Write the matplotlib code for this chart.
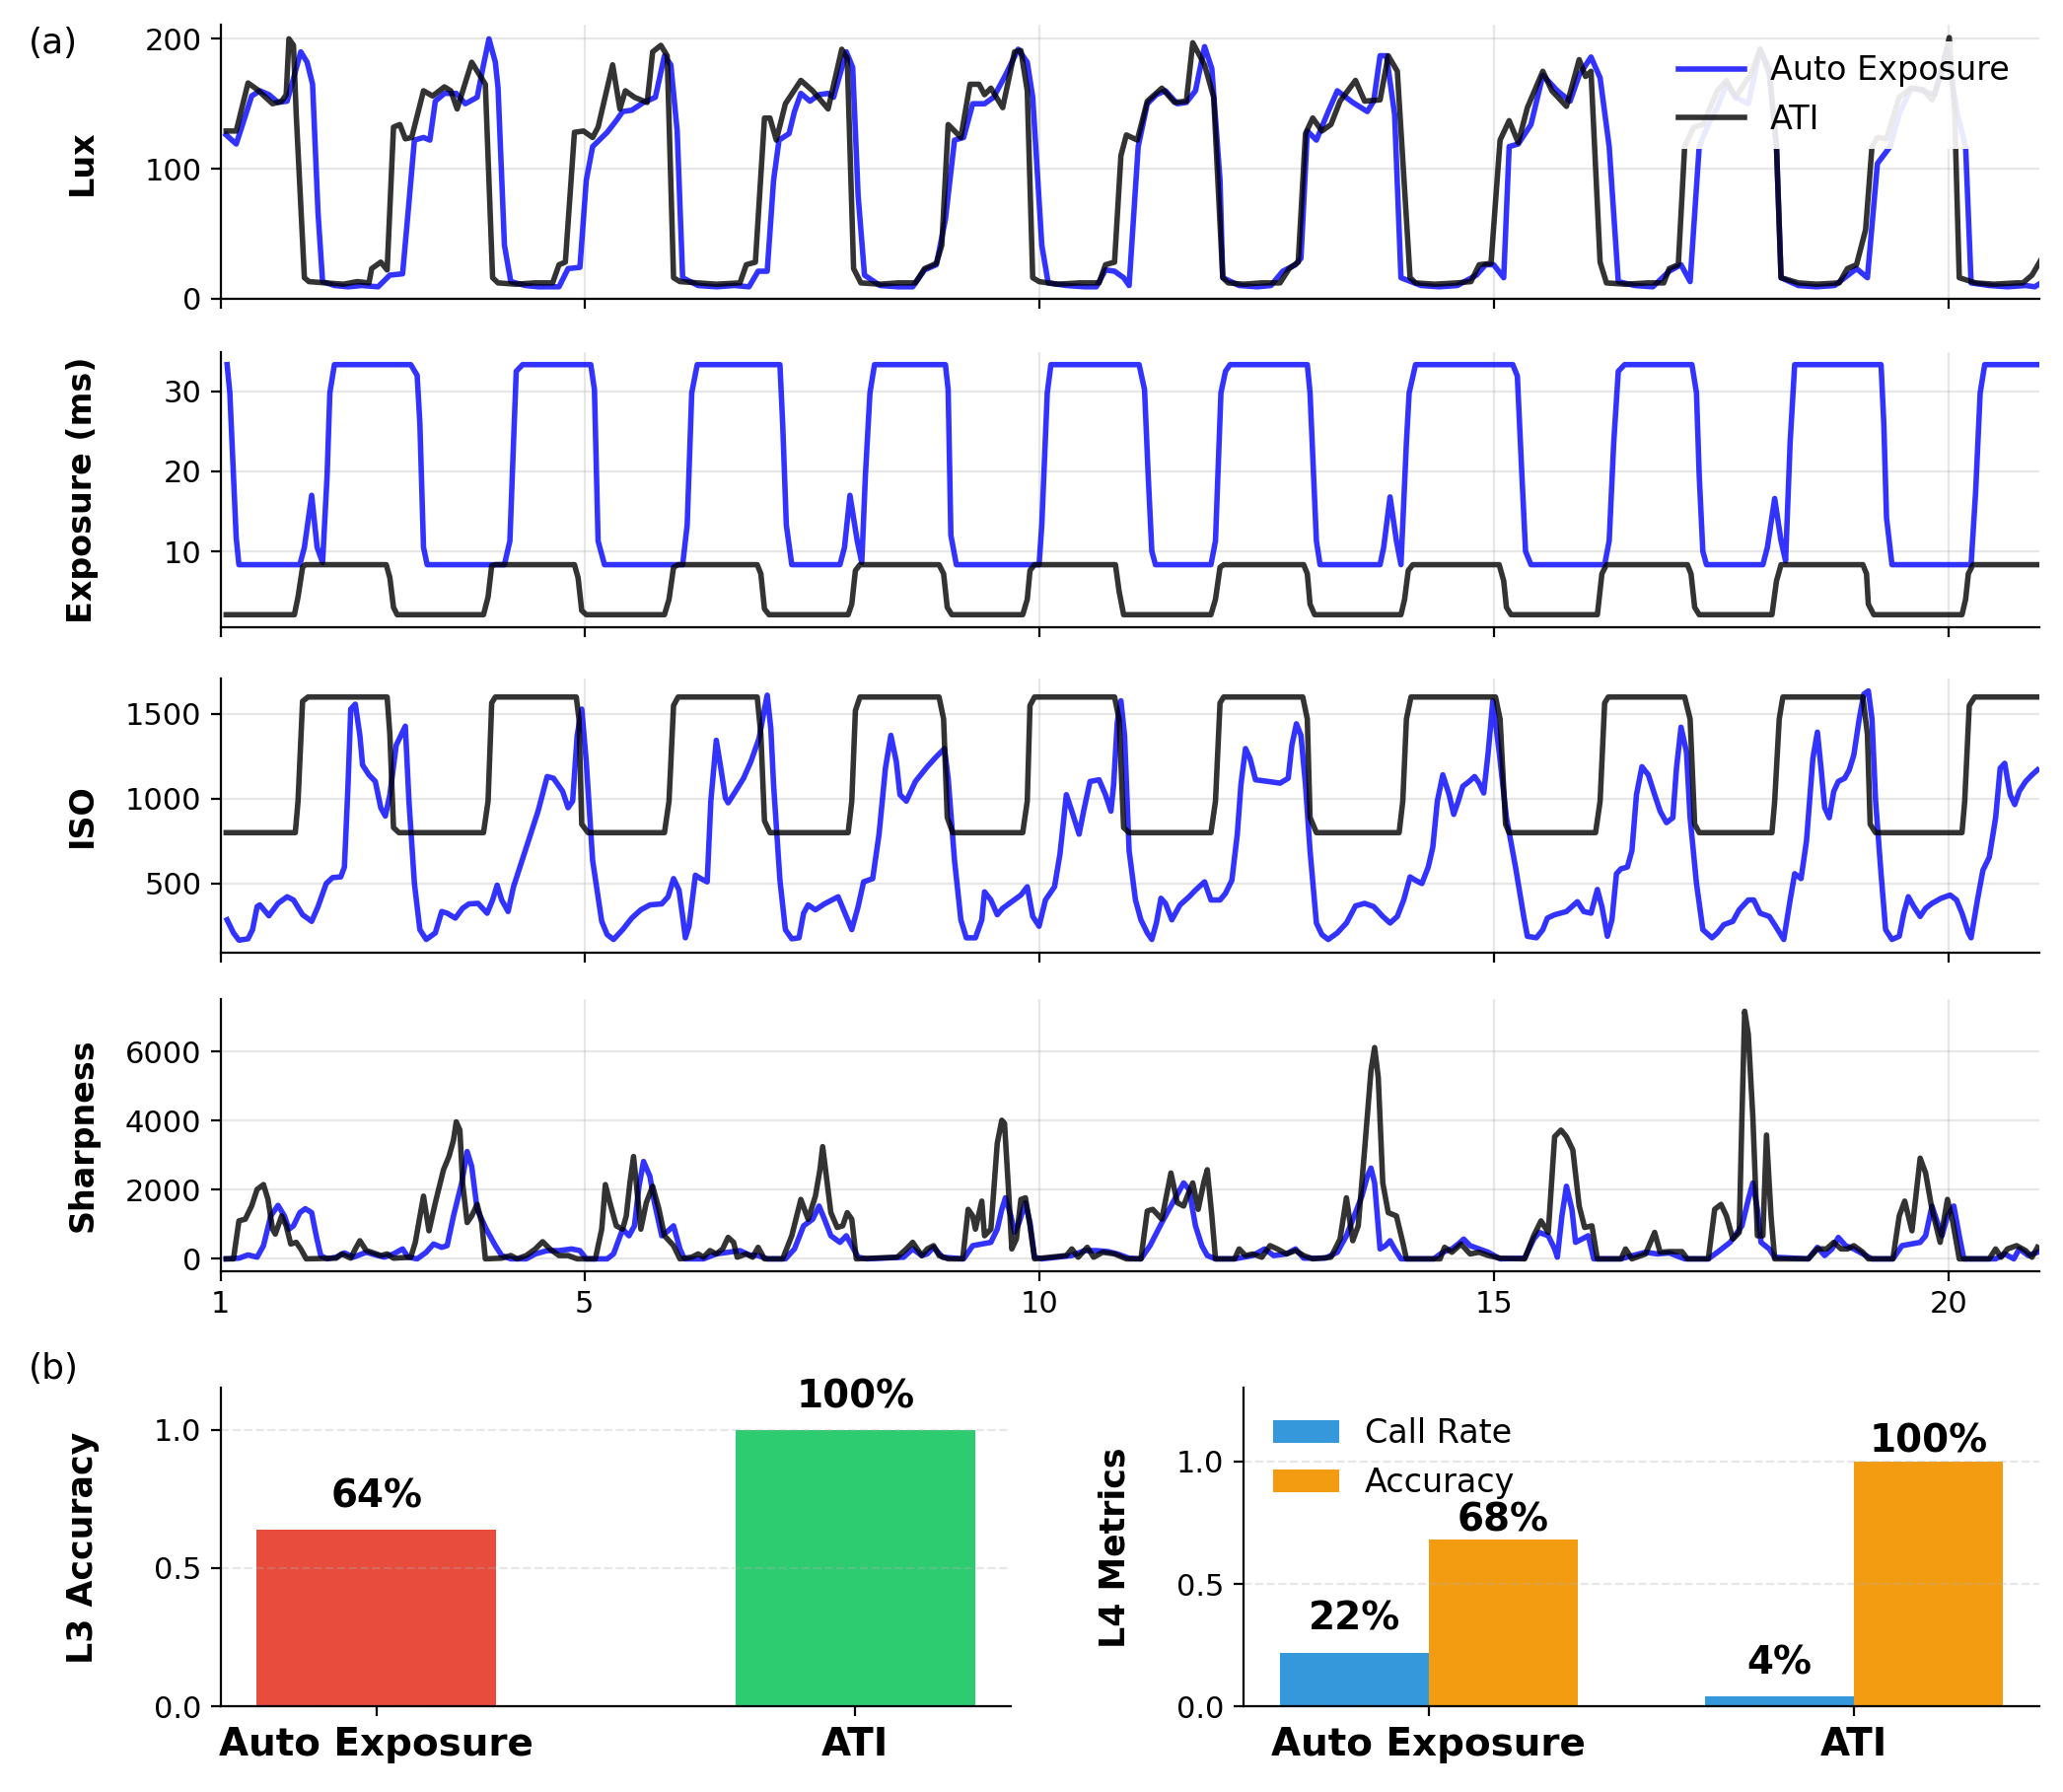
import matplotlib
matplotlib.use('Agg')
import matplotlib.pyplot as plt
import numpy as np

# ---- datos (x, valor) ----
lux_auto = [(1.06,126),(1.17,119),(1.24,134),(1.34,156),(1.43,160),(1.53,157),(1.63,151),(1.73,152),(1.79,167),(1.88,190),
    (1.95,182),(2.01,165),(2.07,66),(2.12,13),(2.25,10),(2.40,9),(2.55,10),(2.73,9),(2.86,18),(3.00,19),(3.06,66),(3.13,122),
    (3.23,124),(3.30,122),(3.36,152),(3.46,158),(3.59,158),(3.69,150),(3.82,155),(3.89,180),(3.95,200),(4.02,182),(4.05,162),
    (4.12,41),(4.19,13),(4.35,10),(4.50,9),(4.72,9),(4.82,23),(4.95,24),(5.02,91),(5.09,117),(5.25,128),(5.35,137),(5.42,144),
    (5.52,145),(5.65,151),(5.78,155),(5.88,187),(5.95,180),(6.02,129),(6.08,16),(6.25,10),(6.45,9),(6.65,10),(6.81,9),(6.91,21),
    (7.01,21),(7.08,91),(7.14,122),(7.25,127),(7.31,144),(7.38,158),(7.48,152),(7.58,157),(7.68,158),(7.74,155),(7.88,190),
    (7.95,178),(8.01,79),(8.08,18),(8.25,10),(8.45,9),(8.61,9),(8.74,22),(8.87,26),(8.97,61),(9.07,122),(9.17,124),(9.27,150),
    (9.40,150),(9.50,155),(9.63,172),(9.77,192),(9.87,182),(9.93,155),(10.03,41),(10.10,12),(10.30,10),(10.50,9),(10.63,9),
    (10.73,22),(10.83,21),(10.93,16),(10.99,10),(11.09,117),(11.19,150),(11.29,157),(11.39,160),(11.52,150),(11.62,151),
    (11.72,160),(11.82,194),(11.90,177),(11.99,91),(12.02,16),(12.20,10),(12.40,9),(12.55,10),(12.68,21),(12.82,26),(12.88,31),
    (12.95,129),(13.05,122),(13.18,144),(13.28,160),(13.45,151),(13.61,144),(13.68,152),(13.75,187),(13.82,187),(13.91,142),
    (13.98,16),(14.20,10),(14.40,9),(14.60,10),(14.81,18),(14.91,26),(15.00,26),(15.11,16),(15.17,117),(15.27,119),(15.41,134),
    (15.54,172),(15.70,160),(15.84,152),(15.94,172),(16.07,186),(16.17,170),(16.27,117),(16.37,13),(16.55,10),(16.75,9),
    (16.93,21),(17.06,26),(17.16,13),(17.26,117),(17.36,134),(17.46,147),(17.56,165),(17.66,155),(17.80,150),(17.93,192),
    (18.03,177),(18.11,117),(18.16,16),(18.35,10),(18.55,9),(18.75,10),(18.86,16),(18.99,23),(19.11,16),(19.22,104),(19.36,117),
    (19.46,142),(19.59,162),(19.72,160),(19.85,157),(19.98,192),(20.10,142),(20.19,117),(20.25,12),(20.45,10),(20.65,9),
    (20.85,10),(20.95,9),(21.02,12)]
lux_ati = [(1.06,129),(1.17,129),(1.30,166),(1.40,161),(1.57,150),(1.67,152),(1.72,157),(1.75,200),(1.80,195),(1.83,142),
    (1.92,16),(1.97,13),(2.15,12),(2.35,11),(2.50,13),(2.63,12),(2.66,23),(2.76,28),(2.83,22),(2.90,132),(2.97,134),(3.03,123),
    (3.10,124),(3.23,160),(3.33,156),(3.46,163),(3.53,160),(3.60,146),(3.76,182),(3.91,165),(3.99,16),(4.05,12),(4.25,11),
    (4.45,12),(4.65,12),(4.72,26),(4.79,28),(4.89,128),(4.99,129),(5.09,124),(5.15,132),(5.31,180),(5.39,146),(5.45,160),
    (5.55,155),(5.69,151),(5.75,190),(5.84,195),(5.91,187),(5.98,16),(6.05,13),(6.25,12),(6.45,11),(6.71,12),(6.78,26),
    (6.88,28),(6.98,139),(7.04,139),(7.11,122),(7.21,150),(7.38,168),(7.51,160),(7.68,146),(7.83,192),(7.89,185),(7.96,23),
    (8.04,12),(8.25,11),(8.45,12),(8.64,12),(8.74,23),(8.87,27),(8.93,41),(9.00,134),(9.07,129),(9.14,124),(9.24,165),
    (9.34,165),(9.40,157),(9.47,162),(9.60,147),(9.73,190),(9.80,191),(9.87,160),(9.93,16),(10.00,13),(10.20,11),(10.45,12),
    (10.66,12),(10.73,26),(10.83,28),(10.90,110),(10.96,126),(11.08,122),(11.19,152),(11.35,162),(11.49,151),(11.62,152),
    (11.69,197),(11.82,180),(11.92,155),(12.02,16),(12.08,12),(12.25,11),(12.45,12),(12.65,12),(12.75,23),(12.85,28),
    (12.93,127),(13.01,139),(13.11,129),(13.21,134),(13.31,152),(13.48,168),(13.58,152),(13.75,153),(13.84,187),(13.94,175),
    (14.08,16),(14.14,12),(14.35,11),(14.60,12),(14.75,13),(14.84,26),(14.97,27),(15.07,122),(15.17,137),(15.27,120),
    (15.37,147),(15.54,175),(15.64,160),(15.80,148),(15.94,184),(16.01,171),(16.07,175),(16.17,28),(16.24,12),(16.45,11),
    (16.70,12),(16.87,12),(16.93,23),(17.03,26),(17.10,117),(17.20,132),(17.30,134),(17.46,160),(17.56,168),(17.66,155),
    (17.83,173),(17.93,192),(18.03,173),(18.11,117),(18.16,16),(18.35,12),(18.55,11),(18.80,12),(18.89,23),(18.99,26),
    (19.09,53),(19.16,117),(19.22,124),(19.32,123),(19.46,155),(19.59,162),(19.72,161),(19.82,153),(19.92,172),(20.01,201),
    (20.07,142),(20.12,16),(20.30,12),(20.50,11),(20.75,12),(20.82,12),(20.92,18),(21.02,30)]

exp_auto = [(1.07,33.33),(1.10,29.8),(1.17,11.7),(1.20,8.33),(1.87,8.33),(1.92,10.5),(2.00,17.0),(2.06,10.5),(2.12,8.6),
    (2.17,19.5),(2.20,29.8),(2.25,33.33),(3.09,33.33),(3.16,32.0),(3.19,26.0),(3.23,10.5),(3.27,8.33),(4.12,8.33),(4.18,11.3),
    (4.22,23.6),(4.25,32.5),(4.32,33.33),(5.07,33.33),(5.11,30.2),(5.15,11.3),(5.22,8.33),(6.08,8.33),(6.13,13.3),(6.18,29.8),
    (6.24,33.33),(7.15,33.33),(7.18,26.0),(7.22,13.3),(7.28,8.33),(7.81,8.33),(7.86,10.5),(7.92,17.0),(8.00,11.3),(8.05,8.6),
    (8.09,19.5),(8.14,29.8),(8.19,33.33),(8.97,33.33),(9.00,30.2),(9.03,12.0),(9.09,8.33),(10.00,8.33),(10.03,13.3),
    (10.09,29.8),(10.13,33.33),(11.10,33.33),(11.16,30.2),(11.20,19.5),(11.24,10.0),(11.28,8.33),(11.89,8.33),(11.94,11.3),
    (12.00,29.8),(12.05,32.5),(12.10,33.33),(12.95,33.33),(12.98,29.8),(13.05,11.3),(13.09,8.33),(13.75,8.33),(13.79,10.5),
    (13.86,16.8),(13.93,11.3),(13.98,8.33),(14.04,23.6),(14.07,29.8),(14.14,33.33),(15.21,33.33),(15.26,31.9),(15.31,19.5),
    (15.35,10.0),(15.41,8.33),(16.22,8.33),(16.27,11.3),(16.32,23.6),(16.37,32.5),(16.44,33.33),(17.18,33.33),(17.23,29.8),
    (17.26,19.5),(17.30,10.0),(17.34,8.33),(17.96,8.33),(18.01,10.5),(18.09,16.6),(18.16,11.3),(18.21,8.8),(18.26,23.6),
    (18.31,33.33),(19.26,33.33),(19.29,26.0),(19.32,14.2),(19.38,8.33),(20.25,8.33),(20.30,17.4),(20.35,29.8),(20.40,33.33),
    (21.00,33.33)]
exp_ati = [(1.06,2.08),(1.81,2.08),(1.85,4.3),(1.90,8.0),(1.93,8.33),(2.82,8.33),(2.86,6.7),(2.90,3.0),(2.94,2.08),(3.89,2.08),
    (3.94,4.3),(3.98,8.2),(4.02,8.33),(4.89,8.33),(4.93,6.7),(4.97,2.6),(5.02,2.08),(5.88,2.08),(5.93,4.0),(5.98,8.0),
    (6.03,8.33),(6.90,8.33),(6.94,7.2),(6.98,2.8),(7.03,2.08),(7.90,2.08),(7.94,3.4),(7.98,7.6),(8.03,8.33),(8.90,8.33),
    (8.95,7.2),(8.99,3.0),(9.04,2.08),(9.82,2.08),(9.87,4.0),(9.90,7.6),(9.95,8.33),(10.84,8.33),(10.88,5.0),(10.93,2.08),
    (11.89,2.08),(11.94,4.0),(11.99,8.0),(12.03,8.33),(12.91,8.33),(12.95,7.2),(12.98,3.4),(13.03,2.08),(13.98,2.08),
    (14.02,4.0),(14.06,7.6),(14.11,8.33),(15.06,8.33),(15.11,6.3),(15.14,3.0),(15.19,2.08),(16.14,2.08),(16.19,7.2),
    (16.24,8.33),(17.13,8.33),(17.17,7.2),(17.21,3.0),(17.26,2.08),(18.06,2.08),(18.11,6.3),(18.16,8.33),(19.06,8.33),
    (19.10,7.2),(19.12,3.4),(19.18,2.08),(20.15,2.08),(20.19,4.0),(20.22,7.2),(20.27,8.33),(21.00,8.33)]

iso_auto = [(1.07,286),(1.14,209),(1.20,166),(1.30,174),(1.35,228),(1.40,364),(1.43,374),(1.53,310),(1.63,383),(1.73,422),
    (1.80,403),(1.90,316),(2.00,277),(2.07,364),(2.16,500),(2.23,535),(2.32,539),(2.36,597),(2.40,1083),(2.43,1529),(2.48,1558),
    (2.53,1374),(2.56,1199),(2.63,1141),(2.70,1102),(2.76,947),(2.81,898),(2.86,1024),(2.93,1316),(3.03,1428),(3.07,986),
    (3.13,500),(3.19,228),(3.26,170),(3.36,209),(3.43,335),(3.49,325),(3.58,296),(3.66,354),(3.73,380),(3.83,383),(3.93,325),
    (3.99,403),(4.04,490),(4.09,403),(4.16,335),(4.22,481),(4.49,927),(4.59,1131),(4.66,1121),(4.76,1044),(4.82,947),(4.87,986),
    (4.92,1374),(4.97,1529),(5.02,1219),(5.09,636),(5.19,277),(5.25,199),(5.32,170),(5.42,228),(5.52,296),(5.62,345),(5.72,374),
    (5.85,380),(5.92,422),(5.98,529),(6.04,461),(6.08,306),(6.11,180),(6.15,248),(6.22,549),(6.28,529),(6.35,510),(6.39,986),
    (6.45,1345),(6.50,1180),(6.55,1005),(6.58,976),(6.65,1034),(6.75,1121),(6.83,1219),(6.92,1355),(6.98,1529),(7.01,1611),
    (7.05,1413),(7.08,1083),(7.15,519),(7.21,228),(7.28,174),(7.36,180),(7.41,325),(7.46,374),(7.54,345),(7.64,380),(7.79,422),
    (7.88,306),(7.94,228),(8.01,364),(8.07,510),(8.17,529),(8.24,791),(8.31,1180),(8.37,1374),(8.43,1219),(8.47,1024),(8.54,986),
    (8.64,1102),(8.77,1189),(8.87,1248),(8.96,1296),(9.00,1121),(9.07,636),(9.14,286),(9.20,180),(9.30,180),(9.37,286),
    (9.40,451),(9.47,403),(9.54,316),(9.60,354),(9.70,393),(9.80,432),(9.87,481),(9.93,306),(10.00,248),(10.07,403),(10.17,481),
    (10.23,675),(10.30,1024),(10.36,927),(10.44,791),(10.49,927),(10.56,1102),(10.66,1112),(10.73,1024),(10.79,927),(10.82,1083),
    (10.86,1450),(10.90,1578),(10.94,1374),(10.99,694),(11.06,403),(11.12,286),(11.19,209),(11.24,170),(11.29,267),(11.34,413),
    (11.39,383),(11.46,286),(11.55,374),(11.65,422),(11.72,461),(11.82,510),(11.89,403),(11.99,403),(12.05,442),(12.12,519),
    (12.18,791),(12.22,1083),(12.27,1296),(12.32,1238),(12.38,1112),(12.52,1102),(12.65,1092),(12.74,1121),(12.78,1316),
    (12.83,1442),(12.88,1374),(12.93,1083),(12.98,694),(13.05,267),(13.11,199),(13.18,170),(13.28,209),(13.38,267),(13.48,368),
    (13.58,383),(13.68,364),(13.78,306),(13.86,267),(13.94,306),(14.01,403),(14.08,539),(14.14,519),(14.21,500),(14.28,597),
    (14.33,714),(14.38,986),(14.44,1141),(14.51,1024),(14.56,908),(14.61,986),(14.66,1073),(14.73,1102),(14.79,1131),
    (14.84,1092),(14.89,1034),(14.94,1277),(14.99,1578),(15.06,1277),(15.14,888),(15.24,597),(15.33,306),(15.37,189),
    (15.47,180),(15.54,228),(15.59,296),(15.67,316),(15.80,335),(15.92,393),(15.99,335),(16.07,325),(16.14,465),(16.19,364),
    (16.25,189),(16.30,286),(16.35,558),(16.40,587),(16.47,597),(16.52,694),(16.57,1024),(16.63,1189),(16.70,1141),(16.77,1024),
    (16.83,927),(16.90,859),(16.97,888),(17.01,1180),(17.06,1422),(17.12,1277),(17.16,888),(17.23,500),(17.30,228),(17.40,180),
    (17.46,209),(17.53,257),(17.63,277),(17.70,345),(17.80,403),(17.86,403),(17.93,325),(18.03,306),(18.09,257),(18.19,170),
    (18.26,403),(18.31,558),(18.38,529),(18.44,752),(18.51,1238),(18.56,1393),(18.60,1180),(18.64,947),(18.69,888),(18.74,1044),
    (18.79,1102),(18.86,1121),(18.91,1170),(18.96,1257),(19.02,1471),(19.07,1617),(19.12,1636),(19.16,1471),(19.20,986),
    (19.26,558),(19.31,228),(19.38,170),(19.46,189),(19.51,325),(19.56,422),(19.62,364),(19.69,306),(19.75,354),(19.82,383),
    (19.92,413),(20.02,432),(20.09,403),(20.15,325),(20.22,209),(20.25,180),(20.32,403),(20.38,578),(20.45,655),(20.52,888),
    (20.57,1180),(20.62,1209),(20.68,1024),(20.73,966),(20.78,1044),(20.85,1102),(20.92,1141),(20.98,1170)]
iso_ati = [(1.06,800),(1.82,800),(1.85,985),(1.90,1575),(1.96,1600),(2.83,1600),(2.86,1380),(2.90,830),(2.96,800),(3.89,800),
    (3.94,985),(3.98,1565),(4.02,1600),(4.91,1600),(4.94,1470),(4.97,850),(5.04,800),(5.88,800),(5.93,985),(5.98,1550),
    (6.03,1600),(6.90,1600),(6.94,1380),(6.98,870),(7.04,800),(7.90,800),(7.94,985),(7.98,1520),(8.03,1600),(8.90,1600),
    (8.95,1470),(8.99,890),(9.05,800),(9.82,800),(9.87,985),(9.90,1550),(9.95,1600),(10.83,1600),(10.88,1470),(10.93,830),
    (10.99,800),(11.89,800),(11.94,985),(11.99,1565),(12.03,1600),(12.90,1600),(12.95,1470),(12.98,890),(13.05,800),
    (13.96,800),(14.00,985),(14.04,1470),(14.09,1600),(15.02,1600),(15.07,1470),(15.13,850),(15.17,800),(16.12,800),
    (16.17,985),(16.22,1565),(16.26,1600),(17.10,1600),(17.16,1470),(17.21,850),(17.26,800),(18.06,800),(18.09,985),
    (18.14,1470),(18.18,1600),(19.06,1600),(19.11,1380),(19.14,850),(19.20,800),(20.15,800),(20.18,985),(20.23,1550),
    (20.29,1600),(21.00,1600)]

sharp_auto = [(1.06,0),(1.20,20),(1.30,115),(1.40,50),(1.47,382),(1.55,1242),(1.63,1548),(1.70,1242),(1.75,860),(1.80,956),
    (1.87,1338),(1.93,1452),(2.00,1338),(2.05,669),(2.10,96),(2.17,0),(2.27,50),(2.36,172),(2.46,50),(2.60,191),(2.70,115),
    (2.80,50),(2.90,143),(3.00,287),(3.06,50),(3.16,0),(3.26,191),(3.34,430),(3.43,334),(3.49,382),(3.56,1242),(3.65,2198),
    (3.71,3106),(3.76,2676),(3.82,1433),(3.92,860),(4.02,382),(4.09,96),(4.19,0),(4.36,0),(4.46,143),(4.59,239),(4.72,239),
    (4.86,287),(4.95,239),(5.02,0),(5.25,0),(5.32,143),(5.42,860),(5.49,669),(5.55,956),(5.60,2102),(5.65,2819),(5.72,2389),
    (5.77,1625),(5.85,669),(5.92,812),(5.98,956),(6.05,287),(6.10,0),(6.31,0),(6.45,143),(6.58,191),(6.71,239),(6.81,115),
    (6.91,96),(7.01,0),(7.21,0),(7.31,287),(7.41,956),(7.51,1147),(7.58,1529),(7.64,1147),(7.71,669),(7.81,478),(7.88,669),
    (7.94,382),(8.01,48),(8.11,0),(8.51,48),(8.61,287),(8.71,96),(8.77,143),(8.84,334),(8.94,48),(9.17,0),(9.27,382),(9.37,430),
    (9.47,478),(9.54,860),(9.59,1433),(9.63,1768),(9.69,1242),(9.73,765),(9.78,1051),(9.85,1625),(9.90,1051),(9.95,48),
    (10.03,0),(10.36,96),(10.50,239),(10.63,239),(10.76,210),(10.86,143),(10.99,20),(11.12,0),(11.22,382),(11.35,1051),
    (11.49,1720),(11.59,2198),(11.65,2006),(11.72,956),(11.79,382),(11.85,96),(11.94,0),(12.15,0),(12.25,48),(12.35,96),
    (12.48,287),(12.58,96),(12.72,143),(12.82,287),(12.91,20),(13.15,20),(13.28,191),(13.38,669),(13.48,1338),(13.55,1816),
    (13.61,2389),(13.65,2628),(13.69,2198),(13.75,287),(13.81,382),(13.86,525),(13.91,287),(13.98,0),(14.34,0),(14.44,191),
    (14.54,287),(14.61,430),(14.67,573),(14.74,382),(14.84,287),(14.94,191),(15.07,0),(15.34,20),(15.44,573),(15.50,765),
    (15.60,669),(15.67,287),(15.70,48),(15.75,1242),(15.80,2102),(15.86,1433),(15.90,478),(15.97,573),(16.04,669),(16.10,0),
    (16.40,0),(16.53,96),(16.67,191),(16.80,143),(16.93,172),(17.10,0),(17.36,0),(17.46,191),(17.60,478),(17.73,956),
    (17.80,1720),(17.85,2198),(17.90,1433),(17.94,478),(18.03,287),(18.09,48),(18.46,0),(18.56,334),(18.64,96),(18.72,287),
    (18.79,621),(18.87,382),(18.96,287),(19.06,143),(19.16,0),(19.39,0),(19.49,382),(19.59,430),(19.69,478),(19.75,669),
    (19.82,1529),(19.88,1051),(19.93,669),(19.99,1242),(20.06,1529),(20.12,669),(20.17,0),(20.52,0),(20.62,143),(20.72,0),
    (20.78,287),(20.88,96),(20.98,191)]
sharp_ati = [(1.06,0),(1.14,0),(1.20,1100),(1.27,1150),(1.34,1530),(1.40,2010),(1.47,2150),(1.52,1720),(1.57,860),(1.60,717),
    (1.67,1242),(1.72,956),(1.77,430),(1.83,478),(1.88,287),(1.94,0),(2.27,20),(2.33,143),(2.43,20),(2.48,287),(2.53,525),
    (2.60,239),(2.66,191),(2.76,96),(2.83,143),(2.90,20),(3.09,48),(3.14,478),(3.23,1816),(3.29,812),(3.36,1625),(3.45,2580),
    (3.51,2962),(3.56,3440),(3.59,3966),(3.63,3727),(3.66,2198),(3.71,1051),(3.76,1242),(3.82,1577),(3.87,1051),(3.91,0),
    (4.09,20),(4.19,96),(4.26,0),(4.36,96),(4.46,287),(4.54,497),(4.62,287),(4.72,96),(4.82,96),(4.92,0),(5.12,0),(5.19,860),
    (5.23,2150),(5.28,1625),(5.35,956),(5.42,860),(5.46,1242),(5.50,2198),(5.54,2962),(5.57,2198),(5.62,860),(5.68,1625),
    (5.75,2102),(5.82,1433),(5.88,669),(5.98,382),(6.05,0),(6.18,48),(6.25,143),(6.31,48),(6.38,239),(6.45,143),(6.52,287),
    (6.58,621),(6.64,478),(6.68,48),(6.78,143),(6.85,48),(6.91,334),(6.98,0),(7.18,0),(7.28,669),(7.38,1720),(7.46,1147),
    (7.54,1816),(7.59,2580),(7.62,3249),(7.66,2389),(7.71,1338),(7.78,908),(7.84,956),(7.89,1338),(7.94,1147),(7.99,0),
    (8.44,48),(8.54,287),(8.61,478),(8.71,96),(8.77,287),(8.84,382),(8.90,96),(9.00,0),(9.16,0),(9.22,1433),(9.27,1242),
    (9.30,860),(9.37,1672),(9.40,669),(9.47,860),(9.54,3345),(9.59,4013),(9.62,3918),(9.67,1720),(9.70,287),(9.75,573),
    (9.80,1720),(9.85,1768),(9.90,956),(9.95,0),(10.30,96),(10.36,287),(10.43,48),(10.53,334),(10.60,48),(10.70,191),
    (10.83,143),(10.96,0),(11.12,0),(11.19,1386),(11.25,1433),(11.35,1147),(11.45,2485),(11.52,1625),(11.59,1529),(11.63,1816),
    (11.69,2198),(11.75,1433),(11.81,2198),(11.85,2580),(11.90,1242),(11.94,0),(12.15,0),(12.20,287),(12.27,96),(12.35,143),
    (12.45,48),(12.54,382),(12.62,287),(12.72,143),(12.82,239),(12.91,96),(13.01,0),(13.21,48),(13.31,573),(13.38,1768),
    (13.45,525),(13.51,956),(13.58,3153),(13.65,5447),(13.69,6116),(13.73,5256),(13.78,2198),(13.84,1338),(13.93,1242),
    (14.00,478),(14.04,0),(14.41,0),(14.46,334),(14.54,191),(14.64,430),(14.74,143),(14.84,191),(14.94,96),(15.07,20),
    (15.34,0),(15.44,669),(15.52,1099),(15.60,765),(15.67,3536),(15.74,3727),(15.80,3536),(15.87,3153),(15.94,1529),
    (16.00,908),(16.08,956),(16.14,0),(16.40,0),(16.45,287),(16.52,0),(16.67,143),(16.77,765),(16.83,191),(16.93,210),
    (17.07,210),(17.13,0),(17.36,0),(17.43,1433),(17.50,1577),(17.56,1242),(17.63,573),(17.70,765),(17.73,4109),(17.76,7167),
    (17.80,6498),(17.85,4109),(17.90,669),(17.96,669),(18.00,3584),(18.05,1242),(18.09,0),(18.46,0),(18.56,287),(18.66,287),
    (18.74,478),(18.82,287),(18.89,287),(18.96,382),(19.06,191),(19.12,0),(19.39,0),(19.46,1242),(19.52,1672),(19.60,812),
    (19.69,2914),(19.75,2485),(19.82,1433),(19.91,478),(19.99,1720),(20.05,1051),(20.12,0),(20.45,0),(20.52,287),(20.58,48),
    (20.65,287),(20.75,382),(20.85,239),(20.92,48),(20.98,334)]

metodos = ['Auto Exposure', 'ATI']
l3_acc = [0.64, 1.00]
l4_call_rate = [0.22, 0.04]
l4_accuracy = [0.68, 1.00]

paneles = [('Lux', lux_auto, lux_ati, [0, 100, 200]),
           ('Exposure (ms)', exp_auto, exp_ati, [10, 20, 30]),
           ('ISO', iso_auto, iso_ati, [500, 1000, 1500]),
           ('Sharpness', sharp_auto, sharp_ati, [0, 2000, 4000, 6000])]

plt.rcParams.update({'font.size': 11, 'xtick.labelsize': 11, 'ytick.labelsize': 11})
fig = plt.figure(figsize=(10.46, 9.085), dpi=200)

# posiciones [left, bottom, width, height] de los 4 paneles temporales
rects = [[0.107, 0.833, 0.8815, 0.153],
         [0.107, 0.650, 0.8815, 0.1535],
         [0.107, 0.4684, 0.8815, 0.153],
         [0.107, 0.2906, 0.8815, 0.152]]

ejes = []
for (nombre, d_auto, d_ati, yt), r in zip(paneles, rects):
    ax = fig.add_axes(r)
    xa, ya = np.array(d_auto).T
    xb, yb = np.array(d_ati).T
    ax.plot(xa, ya, color='blue', alpha=0.8, lw=2.0, label='Auto Exposure')
    ax.plot(xb, yb, color='black', alpha=0.8, lw=2.0, label='ATI')
    ax.set_xlim(1, 21)
    ax.set_xticks([1, 5, 10, 15, 20])
    ax.set_yticks(yt)
    ax.set_ylabel(nombre, fontsize=12, fontweight='bold')
    ax.yaxis.set_label_coords(-0.067, 0.5)
    ax.grid(True, alpha=0.3)
    ax.spines['top'].set_visible(False)
    ax.spines['right'].set_visible(False)
    ejes.append(ax)

for ax in ejes[:-1]:
    ax.tick_params(labelbottom=False)
ejes[0].legend(loc='upper right', fontsize=12, framealpha=0.9, edgecolor='none')

# (b) barras
ax_l3 = fig.add_axes([0.107, 0.0477, 0.383, 0.1777])
pos = np.arange(len(metodos))
ax_l3.bar(pos, l3_acc, width=0.5, color=['#e74c3c', '#2ecc71'])
for p, v in zip(pos, l3_acc):
    ax_l3.text(p, v + 0.05, f'{round(v * 100)}%', ha='center', va='bottom', fontsize=14, fontweight='bold')
ax_l3.set_ylim(0, 1.15)
ax_l3.set_yticks([0.0, 0.5, 1.0])
ax_l3.set_xticks(pos)
ax_l3.set_xticklabels(metodos, fontsize=14, fontweight='bold')
ax_l3.set_ylabel('L3 Accuracy', fontsize=12.5, fontweight='bold')
ax_l3.yaxis.set_label_coords(-0.153, 0.5)
ax_l3.grid(axis='y', linestyle='--', alpha=0.3)
ax_l3.spines['top'].set_visible(False)
ax_l3.spines['right'].set_visible(False)

ax_l4 = fig.add_axes([0.6027, 0.0477, 0.3858, 0.1777])
w = 0.35
ax_l4.bar(pos - w / 2, l4_call_rate, width=w, color='#3498db', label='Call Rate')
ax_l4.bar(pos + w / 2, l4_accuracy, width=w, color='#f39c12', label='Accuracy')
for p, v in zip(pos - w / 2, l4_call_rate):
    ax_l4.text(p, v + 0.06, f'{round(v * 100)}%', ha='center', va='bottom', fontsize=14, fontweight='bold')
for p, v in zip(pos + w / 2, l4_accuracy):
    ax_l4.text(p, v + 0.005, f'{round(v * 100)}%', ha='center', va='bottom', fontsize=14, fontweight='bold')
ax_l4.set_ylim(0, 1.3)
ax_l4.set_yticks([0.0, 0.5, 1.0])
ax_l4.set_xticks(pos)
ax_l4.set_xticklabels(metodos, fontsize=14, fontweight='bold')
ax_l4.set_ylabel('L4 Metrics', fontsize=12.5, fontweight='bold')
ax_l4.yaxis.set_label_coords(-0.14, 0.5)
ax_l4.legend(loc='upper left', fontsize=12, frameon=False)
ax_l4.grid(axis='y', linestyle='--', alpha=0.3)
ax_l4.spines['top'].set_visible(False)
ax_l4.spines['right'].set_visible(False)

fig.text(0.014, 0.976, '(a)', fontsize=13, va='center')
fig.text(0.014, 0.236, '(b)', fontsize=13, va='center')

fig.savefig('out.png', dpi=200)
